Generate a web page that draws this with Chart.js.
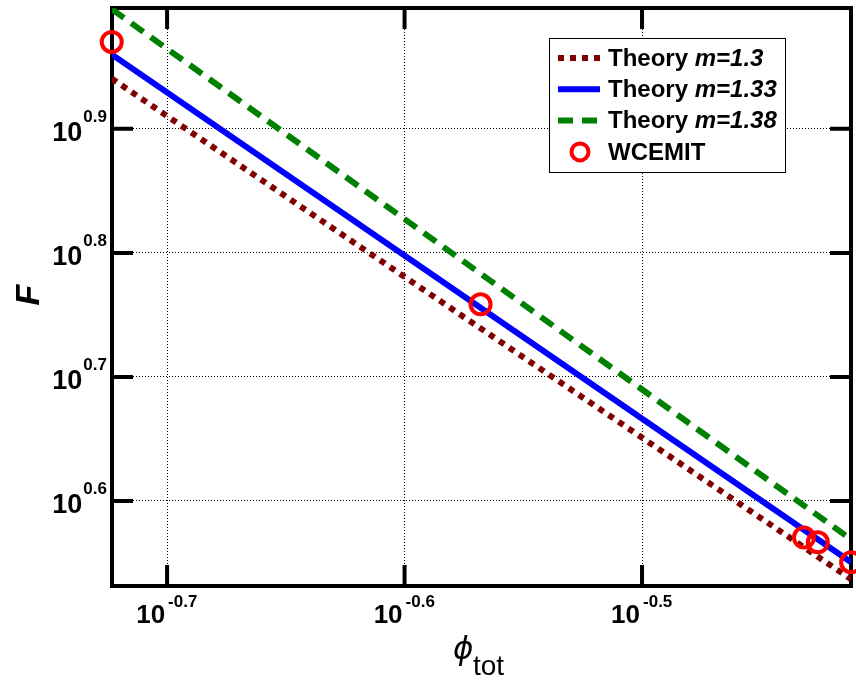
<!DOCTYPE html>
<html>
<head>
<meta charset="utf-8">
<script src="https://cdn.jsdelivr.net/npm/chart.js@4/dist/chart.umd.min.js"></script>
<style>
  body { margin: 0; background: #fff; }
</style>
</head>
<body>
<canvas id="chart" width="856" height="681"></canvas>
<script>
// theory lines (straight on log-log, endpoints at the axis limits)
const phiLine = [0.1891, 0.3873]
const fM130 = [8.72, 3.443]
const fM133 = [9.12, 3.553]
const fM138 = [9.92, 3.707]

// WCEMIT simulation points
const phiWcemit = [0.1891, 0.2704, 0.3700, 0.3750, 0.3873]
const fWcemit = [9.333, 5.735, 3.721, 3.687, 3.553]

// tick exponents (labels 10^e)
const xTickExp = [-0.7, -0.6, -0.5]
const yTickExp = [0.6, 0.7, 0.8, 0.9]

const legendItems = [
    { name: "Theory ", m: "m=1.3", color: "#800000", dash: [6, 6], kind: "line" },
    { name: "Theory ", m: "m=1.33", color: "#0000ff", dash: [], kind: "line" },
    { name: "Theory ", m: "m=1.38", color: "#008000", dash: [15, 9], kind: "line" },
    { name: "WCEMIT", m: "", color: "#ff0000", dash: [], kind: "circle" }
]

const toXY = (xs, ys) => xs.map((x, i) => ({ x: x, y: ys[i] }))
const FONT = "'Liberation Sans', Arial, sans-serif"

const axesPlugin = {
    id: "axesPlugin",
    beforeDatasetsDraw(chart) {
        const ctx = chart.ctx
        const a = chart.chartArea
        const xs = chart.scales.x, ys = chart.scales.y
        ctx.save()
        ctx.strokeStyle = "#000"
        ctx.lineWidth = 4
        ctx.beginPath()
        xs.ticks.forEach(t => {
            const px = xs.getPixelForValue(t.value)
            ctx.moveTo(px, a.bottom); ctx.lineTo(px, a.bottom - 21)
            ctx.moveTo(px, a.top); ctx.lineTo(px, a.top + 21)
        })
        ys.ticks.forEach(t => {
            const py = ys.getPixelForValue(t.value)
            ctx.moveTo(a.left, py); ctx.lineTo(a.left + 21, py)
            ctx.moveTo(a.right, py); ctx.lineTo(a.right - 21, py)
        })
        ctx.stroke()
        ctx.strokeRect(a.left, a.top, a.right - a.left, a.bottom - a.top)

        // tick labels 10^e
        ctx.fillStyle = "#000"
        ctx.textBaseline = "alphabetic"
        xs.ticks.forEach((t, i) => {
            const px = xs.getPixelForValue(t.value)
            ctx.font = "bold 26px " + FONT
            ctx.textAlign = "right"
            ctx.fillText("10", px - 2, a.bottom + 37)
            ctx.font = "bold 17px " + FONT
            ctx.textAlign = "left"
            ctx.fillText(String(xTickExp[i]), px + 1, a.bottom + 21)
        })
        ys.ticks.forEach((t, i) => {
            const py = ys.getPixelForValue(t.value)
            ctx.font = "bold 17px " + FONT
            const ex = String(yTickExp[i])
            const w = ctx.measureText(ex).width
            ctx.textAlign = "right"
            ctx.fillText(ex, a.left - 5, py - 7)
            ctx.font = "bold 27px " + FONT
            ctx.fillText("10", a.left - 6 - w, py + 12)
        })

        // axis titles
        ctx.save()
        ctx.translate(39, 295)
        ctx.rotate(-Math.PI / 2)
        ctx.font = "italic bold 34px " + FONT
        ctx.textAlign = "center"
        ctx.fillText("F", 0, 0)
        ctx.restore()

        ctx.textAlign = "left"
        ctx.font = "italic 31px 'DejaVu Sans', sans-serif"
        ctx.fillText("ϕ", 453, 659)
        ctx.font = "28px " + FONT
        ctx.fillText("tot", 473, 675)
        ctx.restore()
    },
    afterDraw(chart) {
        const ctx = chart.ctx
        const bx = 549, by = 38, bw = 236, bh = 134
        ctx.save()
        ctx.fillStyle = "#fff"
        ctx.fillRect(bx, by, bw, bh)
        ctx.strokeStyle = "#000"
        ctx.lineWidth = 1
        ctx.strokeRect(bx + 0.5, by + 0.5, bw, bh)
        legendItems.forEach((it, i) => {
            const cy = 58 + i * 31.3
            ctx.strokeStyle = it.color
            ctx.lineWidth = it.kind === "circle" ? 4 : 6
            ctx.setLineDash(it.dash)
            ctx.beginPath()
            if (it.kind === "circle") {
                ctx.arc(580, cy, 8.5, 0, Math.PI * 2)
            } else {
                ctx.moveTo(558, cy); ctx.lineTo(600, cy)
            }
            ctx.stroke()
            ctx.setLineDash([])
            ctx.fillStyle = "#000"
            ctx.textBaseline = "middle"
            ctx.textAlign = "left"
            ctx.font = "bold 24px " + FONT
            ctx.fillText(it.name, 608, cy + 1)
            if (it.m) {
                const w = ctx.measureText(it.name).width
                ctx.font = "italic bold 24px " + FONT
                ctx.fillText(it.m, 608 + w, cy + 1)
            }
        })
        ctx.restore()
    }
}

const lineDs = (label, ys, color, dash) => ({
    label: label,
    data: toXY(phiLine, ys),
    showLine: true,
    borderColor: color,
    borderWidth: 6,
    borderDash: dash,
    pointRadius: 0,
    fill: false
})

new Chart(document.getElementById("chart"), {
    type: "scatter",
    data: {
        datasets: [
            {
                label: "WCEMIT",
                data: toXY(phiWcemit, fWcemit),
                showLine: false,
                pointStyle: "circle",
                pointRadius: 10,
                pointBorderWidth: 4,
                pointBorderColor: "#ff0000",
                pointBackgroundColor: "rgba(0,0,0,0)",
                clip: false,
                order: 0
            },
            Object.assign(lineDs("Theory m=1.3", fM130, "#800000", [6, 6]), { order: 3 }),
            Object.assign(lineDs("Theory m=1.33", fM133, "#0000ff", []), { order: 2 }),
            Object.assign(lineDs("Theory m=1.38", fM138, "#008000", [15, 9]), { order: 1 })
        ]
    },
    options: {
        responsive: false,
        animation: false,
        layout: { padding: { left: 112, right: 5, top: 8, bottom: 95 }, autoPadding: false },
        plugins: { legend: { display: false }, tooltip: { enabled: false } },
        scales: {
            x: {
                type: "logarithmic",
                min: Math.pow(10, -0.7232),
                max: Math.pow(10, -0.412),
                afterBuildTicks: axis => { axis.ticks = xTickExp.map(e => ({ value: Math.pow(10, e) })) },
                ticks: { display: false },
                grid: { color: "#000", lineWidth: 1, drawTicks: false },
                border: { display: false, dash: [1, 2] }
            },
            y: {
                type: "logarithmic",
                min: Math.pow(10, 0.536),
                max: Math.pow(10, 0.9974),
                afterBuildTicks: axis => { axis.ticks = yTickExp.map(e => ({ value: Math.pow(10, e) })) },
                ticks: { display: false },
                grid: { color: "#000", lineWidth: 1, drawTicks: false },
                border: { display: false, dash: [1, 2] }
            }
        }
    },
    plugins: [axesPlugin]
})
</script>
</body>
</html>
